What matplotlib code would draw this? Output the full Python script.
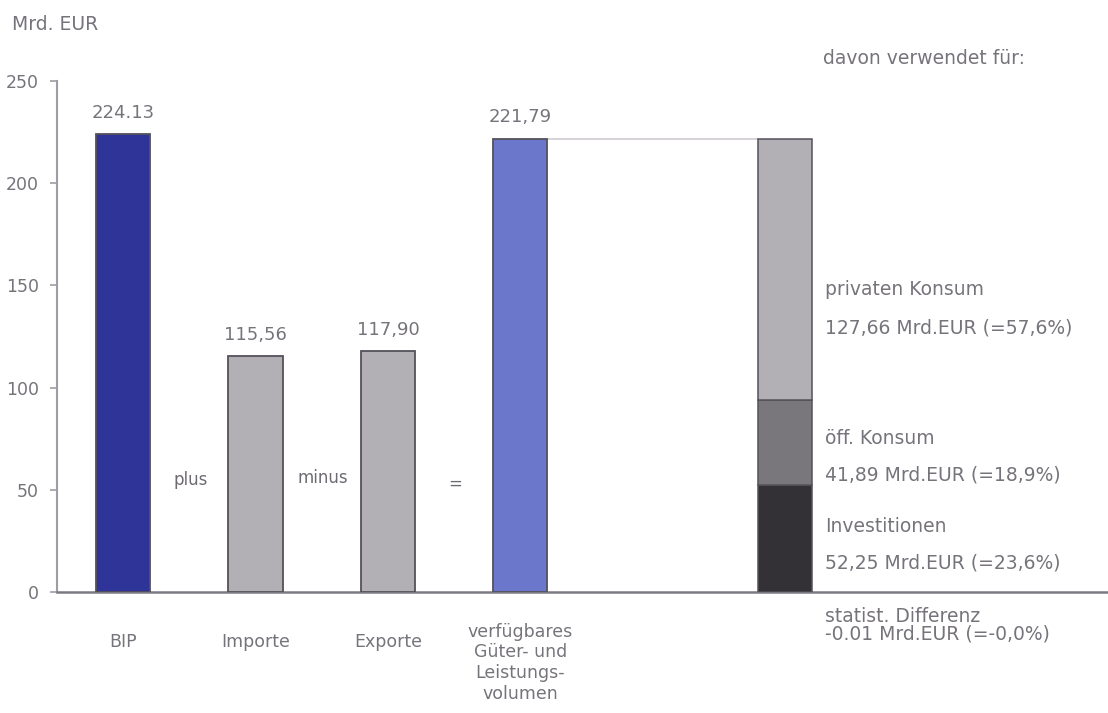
import matplotlib
matplotlib.use("Agg")
import matplotlib.pyplot as plt

# Values in Mrd. EUR
categories = ["BIP", "Importe", "Exporte", "verfügbares\nGüter- und\nLeistungs-\nvolumen"]
values = [224.13, 115.56, 117.90, 221.79]
value_labels = ["224.13", "115,56", "117,90", "221,79"]
operators = ["plus", "minus", "="]

use_parts = ["Investitionen", "öff. Konsum", "privaten Konsum"]
use_values = [52.25, 41.89, 127.66]
use_shares = ["23,6", "18,9", "57,6"]
use_value_text = ["52,25", "41,89", "127,66"]
stat_diff_value = "-0.01"
stat_diff_share = "-0,0"

y_ticks = [0, 50, 100, 150, 200, 250]

TEXT = "#77737b"
plt.rcParams["font.family"] = ["DejaVu Sans"]

fig = plt.figure(figsize=(11.08, 7.13), dpi=100)
ax = fig.add_axes([57 / 1108, 1 - 592 / 713, 1 - 57 / 1108, (592 - 81) / 713])

bar_colors = ["#2f3598", "#b2afb5", "#b2afb5", "#6b77cb"]
xpos = [0, 1, 2, 3]
width = 0.41
ax.bar(xpos, values, width=width, color=bar_colors, edgecolor="#55515a", linewidth=1.3, zorder=3)

for x, v, lab in zip(xpos, values, value_labels):
    ax.text(x, v + 6, lab, ha="center", va="bottom", fontsize=13, color=TEXT)

# operators between the bars
op_y = [55, 56, 53]
for i, (op, oy) in enumerate(zip(operators, op_y)):
    ax.text(i + 0.51, oy, op, ha="center", va="center", fontsize=12, color="#6e6a72")

# stacked bar showing the use of the available volume
stack_x = 5
stack_colors = ["#333136", "#79777c", "#b2afb5"]
bottom = 0
for v, c in zip(use_values, stack_colors):
    ax.bar(stack_x, v, width=width, bottom=bottom, color=c, edgecolor="#55515a", linewidth=1.1, zorder=3)
    bottom += v

# connector line from available volume to the stacked bar
ax.plot([3 + width / 2, stack_x - width / 2], [values[3], values[3]], color="#cfcbd2", lw=1.2, zorder=2)

# labels for the parts
lx = 5.3
lab_kw = dict(ha="left", va="center", fontsize=13.5, color=TEXT)
label_y = {"privaten Konsum": (148, 129), "öff. Konsum": (75, 57), "Investitionen": (32, 14)}
for name, v, val_txt, share in zip(use_parts, use_values, use_value_text, use_shares):
    y1, y2 = label_y[name]
    ax.text(lx, y1, name, **lab_kw)
    ax.text(lx, y2, f"{val_txt} Mrd.EUR (={share}%)", **lab_kw)
ax.text(lx, -12, "statist. Differenz", clip_on=False, **lab_kw)
ax.text(lx, -20.5, f"{stat_diff_value} Mrd.EUR (={stat_diff_share}%)", clip_on=False, **lab_kw)

fig.text(823 / 1108, 1 - 58 / 713, "davon verwendet für:", ha="left", va="center", fontsize=13.5, color=TEXT)
fig.text(12 / 1108, 1 - 24 / 713, "Mrd. EUR", ha="left", va="center", fontsize=13.5, color=TEXT)

ax.set_xlim(-0.5, 7.44)
ax.set_ylim(0, 250)
ax.set_yticks(y_ticks)
ax.set_yticklabels([str(t) for t in y_ticks])
ax.set_xticks(xpos)
ax.set_xticklabels(categories, fontsize=12.5, color=TEXT, linespacing=1.2, va="top")
for lbl in ax.get_xticklabels()[:3]:
    lbl.set_y(-0.02)
ax.tick_params(axis="x", length=0, pad=22)
ax.tick_params(axis="y", length=5, width=1.2, color="#a09ca4", labelsize=12.5, labelcolor=TEXT, pad=8)

for s in ["top", "right"]:
    ax.spines[s].set_visible(False)
ax.spines["left"].set_color("#a09ca4")
ax.spines["left"].set_linewidth(1.5)
ax.spines["bottom"].set_color("#7d7982")
ax.spines["bottom"].set_linewidth(1.8)

fig.savefig("out.png", dpi=100, facecolor="white")
